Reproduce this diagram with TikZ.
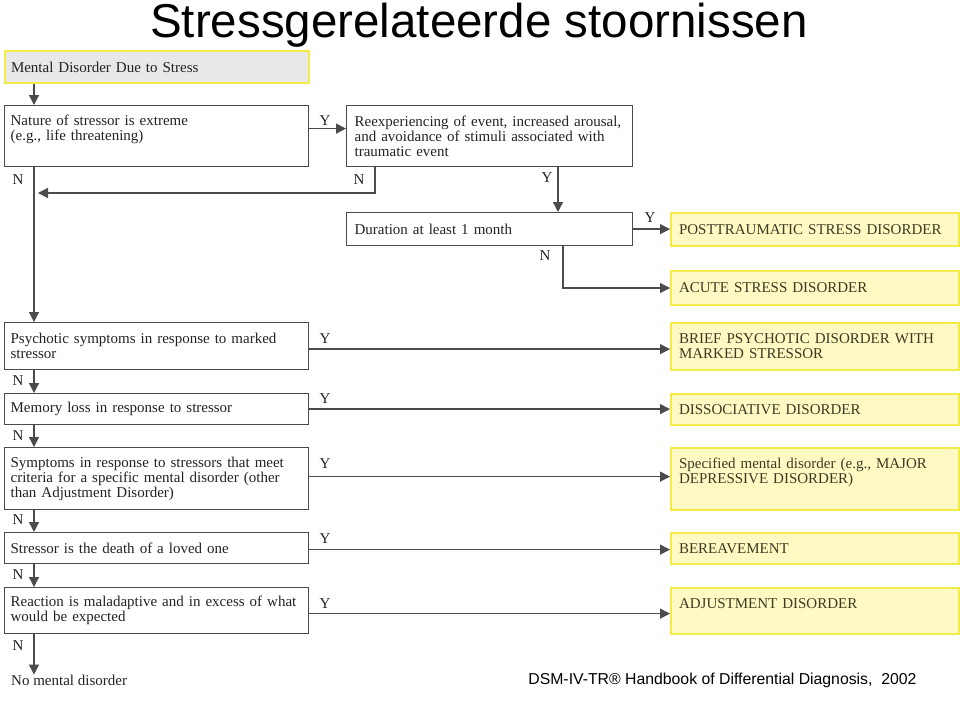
\documentclass[tikz,border=0pt]{standalone}
\usepackage{fontspec}
\setmainfont{Liberation Serif}
\newfontfamily\headfont{Liberation Sans}
\usetikzlibrary{arrows.meta}
\definecolor{linegray}{RGB}{75,75,75}
\definecolor{hiyellow}{RGB}{245,235,70}
\definecolor{dxfill}{RGB}{255,250,195}
\definecolor{startfill}{RGB}{232,232,232}
\definecolor{dxtext}{RGB}{60,58,35}
\definecolor{qtext}{RGB}{35,35,35}
\begin{document}
\begin{tikzpicture}[x=1pt,y=-1pt,
  qbox/.style={draw=linegray, line width=1.2pt, fill=white, anchor=north west, inner xsep=6pt,
    align=left, text=qtext, font=\fontsize{15}{15}\selectfont},
  dxbox/.style={draw=hiyellow, line width=2pt, fill=dxfill, anchor=north west, inner xsep=8pt,
    align=left, text width=272pt, minimum width=288pt, text=dxtext, font=\fontsize{15}{15}\selectfont},
  yn/.style={inner sep=0pt, text=qtext, font=\fontsize{15}{15}\selectfont},
  arr/.style={draw=linegray, line width=1.3pt, -{Triangle[length=10pt,width=10pt]}}]
\path[fill=white] (0,0) rectangle (960,702);
\useasboundingbox (0,0) rectangle (960,702);
\node[font=\headfont\fontsize{47.5}{47.5}\selectfont, anchor=base] (title) at (479,37) {Stressgerelateerde stoornissen};
\coordinate (col) at (34,0);
\coordinate (ycol) at (558,0);
\coordinate (ncol) at (563,0);
\coordinate (fb) at (38,193);
\node[qbox, fill=startfill, draw=hiyellow, line width=2pt, text width=292pt, minimum height=32pt] (start) at (4,50) {Mental Disorder Due to Stress};
\node[qbox, text width=292pt, minimum height=61pt, text depth=32pt] (qa) at (4,105) {Nature of stressor is extreme\\(e.g., life threatening)};
\node[qbox, inner xsep=8pt, text width=270pt, minimum height=61pt] (qb) at (346,105) {Reexperiencing of event, increased arousal,\\and avoidance of stimuli associated with\\traumatic event};
\node[qbox, inner xsep=8pt, text width=270pt, minimum height=33pt] (qdur) at (346,212) {Duration at least 1 month};
\node[dxbox, minimum height=33pt] (dptsd) at (670,212) {POSTTRAUMATIC STRESS DISORDER};
\node[dxbox, minimum height=34pt] (dacute) at (670,270) {ACUTE STRESS DISORDER};
\node[qbox, text width=292pt, minimum height=47pt] (qpsy) at (4,322) {Psychotic symptoms in response to marked\\stressor};
\node[dxbox, minimum height=47pt] (dbrief) at (670,322) {BRIEF PSYCHOTIC DISORDER WITH\\MARKED STRESSOR};
\node[qbox, text width=292pt, minimum height=31pt] (qmem) at (4,393) {Memory loss in response to stressor};
\node[dxbox, minimum height=31pt] (ddiss) at (670,393) {DISSOCIATIVE DISORDER};
\node[qbox, text width=292pt, minimum height=62pt] (qsym) at (4,447) {Symptoms in response to stressors that meet\\criteria for a specific mental disorder (other\\than Adjustment Disorder)};
\node[dxbox, minimum height=62pt, text depth=31pt] (dspec) at (670,447) {Specified mental disorder (e.g., MAJOR\\DEPRESSIVE DISORDER)};
\node[qbox, text width=292pt, minimum height=31pt] (qdeath) at (4,532) {Stressor is the death of a loved one};
\node[dxbox, minimum height=31pt] (dber) at (670,532) {BEREAVEMENT};
\node[qbox, text width=292pt, minimum height=46pt] (qreact) at (4,587) {Reaction is maladaptive and in excess of what\\would be expected};
\node[dxbox, minimum height=46pt, text depth=14pt] (dadj) at (670,587) {ADJUSTMENT DISORDER};
\node[anchor=west, inner sep=0pt, text=qtext, font=\fontsize{15}{15}\selectfont] (nomental) at (11,680) {No mental disorder};
\node[font=\headfont\fontsize{15.8}{16}\selectfont, anchor=base east] (cite) at (920,684) {DSM-IV-TR® Handbook of Differential Diagnosis,\ \ 2002};
% Y / N labels
\node[yn] (lya) at (325,121) {Y};
\node[yn] (lna) at (18,180) {N};
\node[yn] (lnb) at (359,180) {N};
\node[yn] (lyb) at (547,178) {Y};
\node[yn] (lydur) at (650,218) {Y};
\node[yn] (lndur) at (545,256) {N};
\node[yn] (lypsy) at (325,339) {Y};
\node[yn] (lnpsy) at (18,381) {N};
\node[yn] (lymem) at (325,399) {Y};
\node[yn] (lnmem) at (18,436) {N};
\node[yn] (lysym) at (325,464) {Y};
\node[yn] (lnsym) at (18,520) {N};
\node[yn] (lydeath) at (325,539) {Y};
\node[yn] (lndeath) at (18,575) {N};
\node[yn] (lyreact) at (325,604) {Y};
\node[yn] (lnreact) at (18,646) {N};
% connectors
\draw[arr] (start.south -| col) -- (qa.north -| col);
\draw[arr] ([yshift=7.5pt]qa.east) -- ([yshift=7.5pt]qa.east -| qb.west);
\draw[arr] (qa.south -| col) -- (qpsy.north -| col);
\draw[arr] ([xshift=29pt]qb.south west) |- (fb);
\draw[arr] (qb.south -| ycol) -- (qdur.north -| ycol);
\draw[arr] (qdur.east) -- (qdur.east -| dptsd.west);
\draw[arr] (qdur.south -| ncol) |- (dacute.west);
\draw[arr] ([yshift=-3pt]qpsy.east) -- ([yshift=-3pt]qpsy.east -| dbrief.west);
\draw[arr] (qpsy.south -| col) -- (qmem.north -| col);
\draw[arr] (qmem.east) -- (qmem.east -| ddiss.west);
\draw[arr] (qmem.south -| col) -- (qsym.north -| col);
\draw[arr] ([yshift=2pt]qsym.east) -- ([yshift=2pt]qsym.east -| dspec.west);
\draw[arr] (qsym.south -| col) -- (qdeath.north -| col);
\draw[arr] ([yshift=-1.5pt]qdeath.east) -- ([yshift=-1.5pt]qdeath.east -| dber.west);
\draw[arr] (qdeath.south -| col) -- (qreact.north -| col);
\draw[arr] ([yshift=-3pt]qreact.east) -- ([yshift=-3pt]qreact.east -| dadj.west);
\draw[arr] (qreact.south -| col) -- (nomental.north -| col);
\end{tikzpicture}
\end{document}
